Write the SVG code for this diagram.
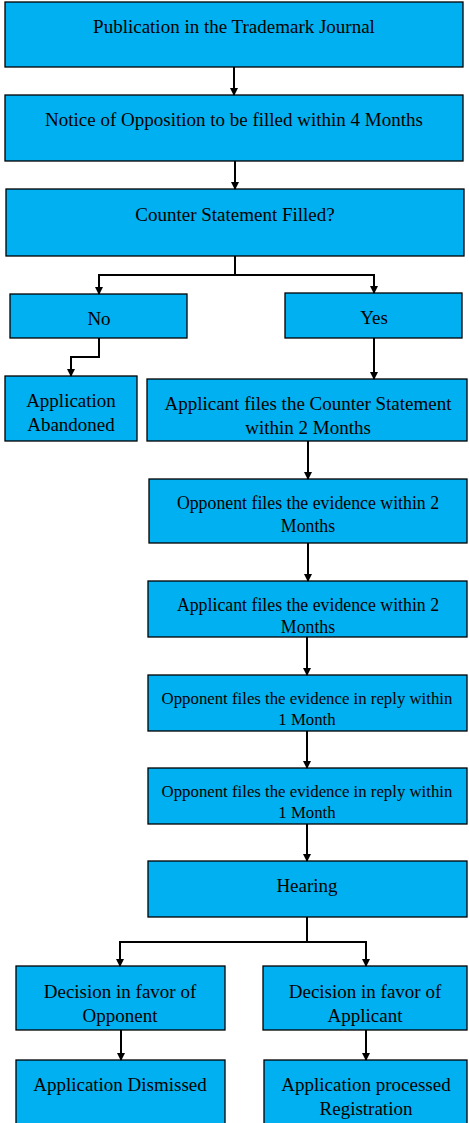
<svg xmlns="http://www.w3.org/2000/svg" width="469" height="1123" viewBox="0 0 469 1123">
<style>
.b{fill:#00B0F0;stroke:#000;stroke-width:1.3}
.t{font-family:"Liberation Serif","Times New Roman",serif;font-size:19px;fill:#000;text-anchor:middle}
.m{font-size:17.8px}
.s{font-size:16.8px}
.c{fill:none;stroke:#000;stroke-width:2;marker-end:url(#a)}
</style>
<defs>
<marker id="a" viewBox="0 0 8 8" refX="7" refY="4" markerWidth="4" markerHeight="4" orient="auto" markerUnits="strokeWidth">
<path d="M0,0 L8,4 L0,8 z" fill="#000"/>
</marker>
</defs>
<rect width="469" height="1123" fill="#fff"/>
<g id="n1"><rect class="b" x="5" y="2" width="458" height="65"/><text class="t" x="234" y="33">Publication in the Trademark Journal</text></g>
<g id="n2"><rect class="b" x="5" y="95" width="458" height="66"/><text class="t" x="234" y="126">Notice of Opposition to be filled within 4 Months</text></g>
<g id="n3"><rect class="b" x="6" y="189" width="458" height="67"/><text class="t" x="235" y="221">Counter Statement Filled?</text></g>
<g id="n4"><rect class="b" x="10" y="294" width="177" height="44"/><text class="t" x="99" y="325">No</text></g>
<g id="n5"><rect class="b" x="285" y="293" width="177" height="45"/><text class="t" x="374" y="324">Yes</text></g>
<g id="n6"><rect class="b" x="5" y="376" width="132" height="65"/><text class="t" x="71" y="407">Application</text><text class="t" x="71" y="431">Abandoned</text></g>
<g id="n7"><rect class="b" x="147" y="379" width="320" height="62"/><text class="t" x="308" y="410">Applicant files the Counter Statement</text><text class="t" x="308" y="434">within 2 Months</text></g>
<g id="n8"><rect class="b" x="149" y="479" width="318" height="64"/><text class="t m" x="308" y="509">Opponent files the evidence within 2</text><text class="t m" x="308" y="532">Months</text></g>
<g id="n9"><rect class="b" x="148" y="581" width="319" height="56"/><text class="t m" x="308" y="611">Applicant files the evidence within 2</text><text class="t m" x="308" y="633">Months</text></g>
<g id="n10"><rect class="b" x="148" y="675" width="319" height="56"/><text class="t s" x="307" y="704">Opponent files the evidence in reply within</text><text class="t s" x="307" y="725">1 Month</text></g>
<g id="n11"><rect class="b" x="148" y="768" width="319" height="56"/><text class="t s" x="307" y="797">Opponent files the evidence in reply within</text><text class="t s" x="307" y="818">1 Month</text></g>
<g id="n12"><rect class="b" x="148" y="861" width="319" height="56"/><text class="t" x="307" y="892">Hearing</text></g>
<g id="n13"><rect class="b" x="16" y="966" width="209" height="64"/><text class="t" x="120" y="998">Decision in favor of</text><text class="t" x="120" y="1022">Opponent</text></g>
<g id="n14"><rect class="b" x="263" y="966" width="204" height="64"/><text class="t" x="365" y="998">Decision in favor of</text><text class="t" x="365" y="1022">Applicant</text></g>
<g id="n15"><rect class="b" x="16" y="1060" width="209" height="70"/><text class="t" x="120" y="1091">Application Dismissed</text></g>
<g id="n16"><rect class="b" x="264" y="1060" width="203" height="70"/><text class="t" x="366" y="1091">Application processed</text><text class="t" x="366" y="1115">Registration</text></g>
<g id="connectors">
<path class="c" d="M234,67 V95"/>
<path class="c" d="M235,161 V189"/>
<path class="c" d="M235,256 V275 H99 V294"/>
<path class="c" d="M235,275 H374 V293"/>
<path class="c" d="M99,338 V357 H71 V376"/>
<path class="c" d="M374,338 V379"/>
<path class="c" d="M308,441 V479"/>
<path class="c" d="M308,543 V581"/>
<path class="c" d="M307,637 V675"/>
<path class="c" d="M307,731 V768"/>
<path class="c" d="M307,824 V861"/>
<path class="c" d="M307,917 V942 H120 V966"/>
<path class="c" d="M307,942 H366 V966"/>
<path class="c" d="M121,1030 V1060"/>
<path class="c" d="M366,1030 V1060"/>
</g>
</svg>
